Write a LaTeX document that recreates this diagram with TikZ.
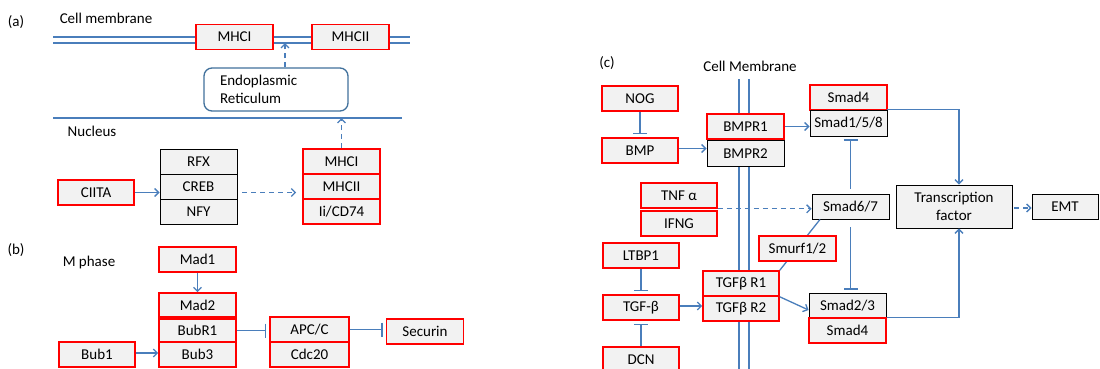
\documentclass[tikz,border=0pt]{standalone}
\usepackage{fontspec}
\setmainfont{Carlito}
\usetikzlibrary{arrows.meta,calc}
\definecolor{lblue}{HTML}{4A7EBB}
\definecolor{boxfill}{HTML}{F2F2F2}
\definecolor{redb}{HTML}{FF0000}
\definecolor{erblue}{HTML}{41719C}
\begin{document}
\begin{tikzpicture}[x=1pt,y=-1pt,
  font=\fontsize{15}{18}\selectfont,
  base/.style={fill=boxfill, minimum width=77pt, minimum height=25pt, inner sep=0pt},
  rbox/.style={base, draw=redb, line width=1.6pt},
  kbox/.style={base, draw=black, line width=0.9pt},
  lbl/.style={inner sep=0pt},
  conn/.style={draw=lblue, line width=1.3pt},
  arr/.style={conn, -{Straight Barb[length=4pt,width=8pt]}},
  darr/.style={arr, dash pattern=on 5pt off 4pt},
  inh/.style={conn, -{Bar[width=14pt,line width=1.3pt]}, shorten >=3pt},
  mem/.style={draw=lblue, line width=1.3pt}]
\useasboundingbox[fill=white] (0,0) rectangle (1100,368);

% ---------- (a) ----------
\node[lbl] (la) at (16,22) {(a)};
\node[lbl] (lcm) at (106,18) {Cell membrane};
\draw[mem] (53,37) -- (410,37);
\draw[mem] (53,43) -- (410,43);
\node[rbox] (mhcIm) at (234.5,37) {MHCI};
\node[rbox] (mhcIIm) at (350.5,37) {MHCII};
\node[draw=erblue, fill=white, line width=1.3pt, rounded corners=8pt, minimum width=144pt, minimum height=43pt, text width=112pt, align=left, inner xsep=16pt, inner ysep=0pt] (er) at (276,89.5) {Endoplasmic\\Reticulum};
\coordinate (memin) at (285,43);
\draw[darr] (er.north -| memin) -- (memin);
\draw[mem] (53,118) -- (402,118);
\coordinate (nucin) at (341.5,118);
\node[lbl] (lnuc) at (92,131) {Nucleus};
\node[kbox] (rfx) at (198.5,161.5) {RFX};
\node[kbox] (creb) at (198.5,186.5) {CREB};
\node[kbox] (nfy) at (198.5,211.5) {NFY};
\node[rbox, minimum width=76pt] (ciita) at (96,192.5) {CIITA};
\node[rbox] (nmhcI) at (341.5,161.5) {MHCI};
\node[rbox] (nmhcII) at (341.5,186.5) {MHCII};
\node[rbox] (ii) at (341.5,211.5) {Ii/CD74};
\draw[arr] (ciita.east) -- (ciita.east -| creb.west);
\draw[darr, shorten <=5pt, shorten >=6pt] (creb.east |- ciita.east) -- (ciita.east -| nmhcII.west);
\draw[darr] (nmhcI.north) -- (nucin);

% ---------- (b) ----------
\node[lbl] (lb) at (16,250) {(b)};
\node[lbl] (lmp) at (89,262) {M phase};
\node[rbox] (mad1) at (197.5,259.5) {Mad1};
\node[rbox, minimum height=24pt] (mad2) at (197.5,305) {Mad2};
\node[rbox, minimum height=23pt] (bubr1) at (197.5,330.5) {BubR1};
\node[rbox] (bub3) at (197.5,354.5) {Bub3};
\node[rbox, minimum width=76pt] (bub1) at (97,354.5) {Bub1};
\node[rbox, minimum width=79pt] (apc) at (309.5,329.5) {APC/C};
\node[rbox, minimum width=79pt] (cdc20) at (309.5,354.5) {Cdc20};
\node[rbox] (securin) at (425,331.5) {Securin};
\draw[arr] (mad1.south) -- (mad2.north);
\draw[arr] ($(bub1.east)+(0,-1.5)$) -- ($(bub3.west)+(0,-1.5)$);
\draw[inh] (bubr1.east) -- (bubr1.east -| apc.west);
\draw[inh] (apc.east) -- (apc.east -| securin.west);

% ---------- (c) ----------
\node[lbl] (lc) at (607,63) {(c)};
\node[lbl] (lcm2) at (750,66) {Cell Membrane};
\draw[mem] (739,79) -- (739,372);
\draw[mem] (749,79) -- (749,372);
\node[rbox, minimum width=76pt] (nog) at (640,98.5) {NOG};
\node[rbox, minimum width=76pt] (bmp) at (640,150.5) {BMP};
\node[rbox] (bmpr1) at (745.5,126.5) {BMPR1};
\node[kbox, minimum height=26pt] (bmpr2) at (745.5,153.5) {BMPR2};
\node[rbox] (s4a) at (848.5,97.5) {Smad4};
\node[kbox, minimum height=26pt] (s158) at (848.5,123) {Smad1/5/8};
\node[kbox, minimum width=116pt, minimum height=43pt, align=center] (tf) at (954,206.5) {Transcription\\factor};
\node[kbox, minimum width=66pt] (emt) at (1065,206.5) {EMT};
\node[rbox, minimum width=76pt] (tnf) at (679,195.5) {TNF α};
\node[rbox, minimum width=76pt] (ifng) at (679,223.5) {IFNG};
\node[rbox, minimum width=76pt] (ltbp1) at (641,255.5) {LTBP1};
\node[rbox, minimum width=76pt] (tgfb) at (641,307.5) {TGF-β};
\node[rbox, minimum width=76pt] (dcn) at (641,359.5) {DCN};
\node[rbox, minimum width=76pt] (r1) at (741,283.5) {TGFβ R1};
\node[rbox, minimum width=76pt] (r2) at (741,308.5) {TGFβ R2};
\node[kbox] (s23) at (847.5,305.5) {Smad2/3};
\node[rbox] (s4b) at (847.5,330.5) {Smad4};
\node[kbox] (s67) at (850.5,206.5) {Smad6/7};
\draw[conn] (r1.north east) -- ($(s67.south)+(-30.5,0)$);
\node[rbox] (smurf) at (797.5,248.5) {Smurf1/2};

\draw[inh] (nog.south) -- (bmp.north);
\draw[arr] ($(bmp.east)+(0,-2)$) -- ($(bmp.east -| bmpr2.west)+(0,-2)$);
\draw[arr] (bmpr1.east) -- (bmpr1.east -| s158.west);
\draw[arr] (s158.north east) -| ($(tf.north)+(5,0)$);
\draw[inh, shorten <=5pt] (s67.north) -- (s158.south -| s67.north);
\draw[inh, shorten <=8pt] (s67.south) -- (s23.north -| s67.south);
\draw[darr] (tnf.south east) -- (tnf.south east -| s67.west);
\draw[darr, shorten <=2pt] ($(tf.east)+(0,1.5)$) -- ($(emt.west)+(0,1.5)$);
\draw[inh] (ltbp1.south) -- (tgfb.north);
\draw[inh] (dcn.north) -- (tgfb.south);
\draw[arr] ($(tgfb.east)+(0,-1.5)$) -- ($(tgfb.east -| r2.west)+(0,-1.5)$);
\draw[arr] (r1.south east) -- ($(s23.west)+(0,4.5)$);
\draw[arr] (s4b.north east) -| ($(tf.south)+(5,0)$);
\end{tikzpicture}
\end{document}
